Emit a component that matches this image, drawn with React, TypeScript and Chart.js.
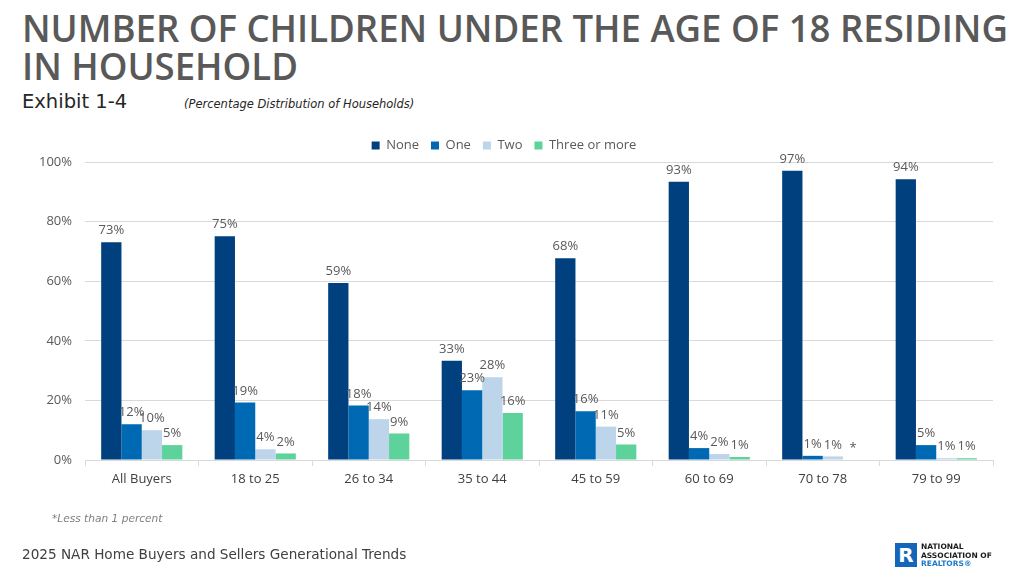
import React, { useEffect, useLayoutEffect, useRef } from "react";
import { Chart, registerables } from "chart.js";

Chart.register(...registerables);

const FONT = "'Open Sans', 'DejaVu Sans', sans-serif";
const WIDE = "'DejaVu Sans', sans-serif";

const categories = ["All Buyers", "18 to 25", "26 to 34", "35 to 44", "45 to 59", "60 to 69", "70 to 78", "79 to 99"];
const seriesNames = ["None", "One", "Two", "Three or more"];
const noneValues = [73.1, 75.1, 59.4, 33.3, 67.7, 93.4, 97.1, 94.2];
const oneValues = [12.0, 19.3, 18.3, 23.4, 16.4, 4.0, 1.4, 5.0];
const twoValues = [10.0, 3.6, 13.7, 27.8, 11.2, 2.0, 1.2, 0.6];
const threeValues = [5.0, 2.2, 8.9, 15.8, 5.2, 1.0, 0, 0.6];
const seriesColors = ["#01407f", "#0069b4", "#bdd5ea", "#5dd29b"];
const yTicks = [0, 20, 40, 60, 80, 100];

export default function App() {
  const ref = useRef<HTMLCanvasElement>(null);
  const line1 = useRef<HTMLSpanElement>(null);
  const line2 = useRef<HTMLSpanElement>(null);

  useLayoutEffect(() => {
    if (!line1.current || !line2.current) return;
    const w = line1.current.getBoundingClientRect().width;
    const s = 986 / w;
    line1.current.style.transform = `scaleX(${s})`;
    line2.current.style.transform = `scaleX(${s})`;
  }, []);

  useEffect(() => {
    if (!ref.current) return;
    const labelPlugin = {
      id: "barLabels",
      afterDatasetsDraw(chart: any) {
        const ctx = chart.ctx;
        ctx.save();
        ctx.font = `13px ${FONT}`;
        ctx.fillStyle = "#595959";
        ctx.textAlign = "center";
        ctx.textBaseline = "bottom";
        chart.data.datasets.forEach((ds: any, i: number) => {
          const meta = chart.getDatasetMeta(i);
          meta.data.forEach((bar: any, j: number) => {
            const v = ds.data[j] as number;
            const txt = v < 0.5 ? "*" : Math.round(v) + "%";
            ctx.fillText(txt, bar.x, bar.y - 5);
          });
        });
        ctx.restore();
      },
    };

    const allValues = [noneValues, oneValues, twoValues, threeValues];
    const chart = new Chart(ref.current, {
      type: "bar",
      data: {
        labels: categories,
        datasets: seriesNames.map((name, i) => ({
          label: name,
          data: allValues[i],
          backgroundColor: seriesColors[i],
          borderWidth: 0,
          categoryPercentage: 0.715,
          barPercentage: 1,
        })),
      },
      options: {
        responsive: false,
        animation: false,
        layout: { padding: { left: 15, right: 31, top: 127, bottom: 77 } },
        plugins: {
          legend: {
            position: "top",
            labels: {
              boxWidth: 8,
              boxHeight: 8,
              padding: 12,
              color: "#595959",
              font: { family: FONT, size: 13 },
            },
          },
          tooltip: { enabled: false },
        },
        scales: {
          x: {
            grid: {
              display: true,
              drawOnChartArea: false,
              drawTicks: true,
              tickLength: 6,
              color: "#d9d9d9",
              offset: true,
            },
            border: { display: true, color: "#d9d9d9" },
            ticks: { color: "#404040", font: { family: FONT, size: 13 }, padding: 5 },
            afterFit: (scale: any) => {
              scale.height = 40;
            },
          },
          y: {
            min: 0,
            max: 100,
            afterBuildTicks: (scale: any) => {
              scale.ticks = yTicks.map((v) => ({ value: v }));
            },
            grid: { color: "#d9d9d9", drawTicks: false },
            border: { display: false },
            ticks: {
              color: "#595959",
              font: { family: FONT, size: 13 },
              padding: 13,
              callback: (v: any) => v + "%",
            },
            afterFit: (scale: any) => {
              scale.width = 70;
            },
          },
        },
      },
      plugins: [labelPlugin],
    });
    return () => chart.destroy();
  }, []);

  const lineStyle: React.CSSProperties = { display: "inline-block", whiteSpace: "nowrap", transformOrigin: "0 0" };

  return (
    <div style={{ position: "fixed", left: 0, top: 0, width: 1024, height: 577, background: "#fff", overflow: "hidden", fontFamily: FONT }}>
      <div style={{ position: "absolute", left: 22, top: 8, width: 1100, color: "#595959", fontSize: 38, fontWeight: 600, lineHeight: "38px" }}>
        <span ref={line1} style={lineStyle}>NUMBER OF CHILDREN UNDER THE AGE OF 18 RESIDING</span>
        <br />
        <span ref={line2} style={lineStyle}>IN HOUSEHOLD</span>
      </div>
      <div style={{ position: "absolute", left: 22, top: 90, color: "#262626", fontSize: 19.5, fontFamily: WIDE }}>Exhibit 1-4</div>
      <div style={{ position: "absolute", left: 184, top: 97, color: "#262626", fontSize: 11.5, fontStyle: "italic", fontFamily: WIDE }}>
        (Percentage Distribution of Households)
      </div>
      <canvas ref={ref} width={1024} height={577} style={{ position: "absolute", left: 0, top: 0, width: 1024, height: 577 }} />
      <div style={{ position: "absolute", left: 52, top: 512, color: "#7f7f7f", fontSize: 10.6, fontStyle: "italic", fontFamily: WIDE }}>*Less than 1 percent</div>
      <div style={{ position: "absolute", left: 22, top: 546, color: "#404040", fontSize: 13.6, fontFamily: WIDE }}>
        2025 NAR Home Buyers and Sellers Generational Trends
      </div>
      <div style={{ position: "absolute", left: 895, top: 543, width: 22, height: 24, background: "#1565b8", color: "#fff", fontWeight: 700, fontSize: 20, lineHeight: "24px", textAlign: "center", fontFamily: WIDE }}>R</div>
      <div style={{ position: "absolute", left: 921, top: 543, fontSize: 7.5, fontWeight: 700, lineHeight: "8.5px", color: "#1a1a1a", fontFamily: WIDE }}>
        NATIONAL<br />ASSOCIATION OF<br /><span style={{ color: "#1e78c8" }}>REALTORS®</span>
      </div>
    </div>
  );
}
